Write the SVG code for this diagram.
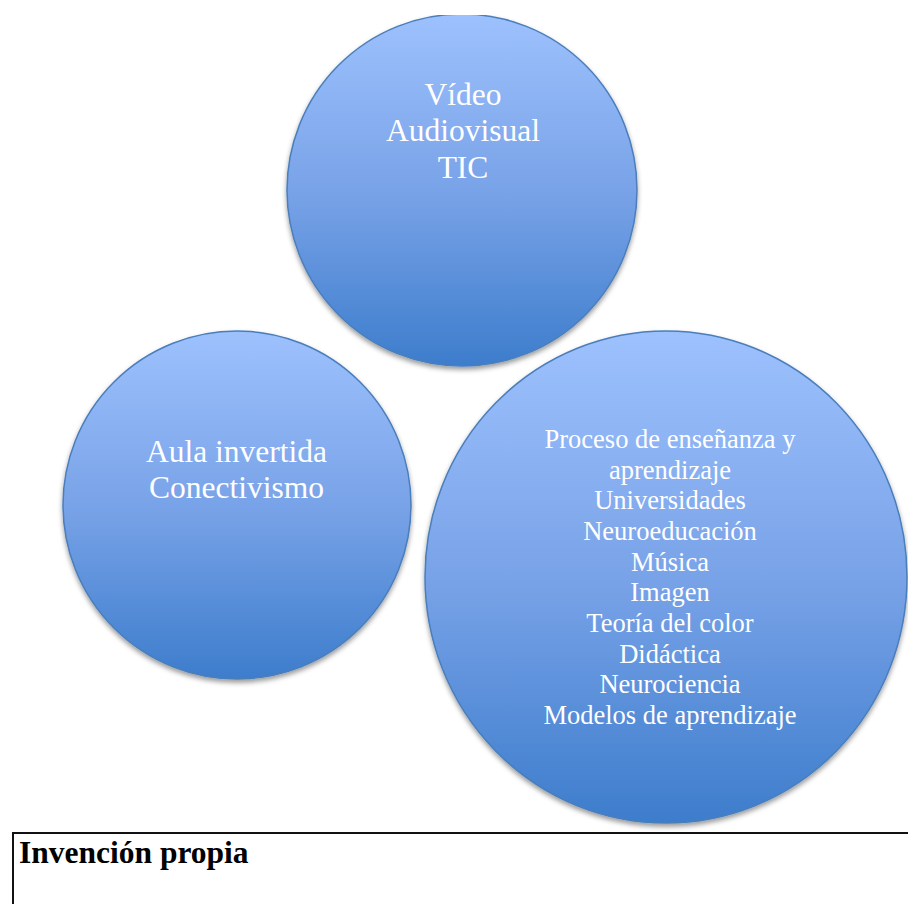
<svg xmlns="http://www.w3.org/2000/svg" width="908" height="904" viewBox="0 0 908 904">
<defs>
<linearGradient id="g" x1="0" y1="0" x2="0" y2="1">
<stop offset="0" stop-color="#9DC1FD"/>
<stop offset="0.5" stop-color="#79A3E8"/>
<stop offset="1" stop-color="#3D7DCC"/>
</linearGradient>
<filter id="sh" x="-10%" y="-10%" width="120%" height="125%">
<feDropShadow dx="0" dy="3" stdDeviation="2.5" flood-color="#000" flood-opacity="0.4"/>
</filter>
<clipPath id="pg"><rect x="0" y="15" width="908" height="889"/></clipPath>
</defs>
<style>
.c{fill:url(#g);stroke:#4A7EBB;stroke-width:1.5;filter:url(#sh)}
.t{font-family:"Liberation Serif","Times New Roman",serif;fill:#fff;text-anchor:middle}
.big{font-size:31.5px}
.sm{font-size:26.5px}
</style>
<rect width="908" height="904" fill="#fff"/>
<g id="connectors"/>
<g id="node-top" clip-path="url(#pg)">
<ellipse class="c" cx="462" cy="190" rx="175" ry="176"/>
<text class="t big" x="463" y="104.5">Vídeo</text>
<text class="t big" x="463" y="141">Audiovisual</text>
<text class="t big" x="463" y="177.5">TIC</text>
</g>
<g id="node-left">
<ellipse class="c" cx="237" cy="505" rx="174" ry="174"/>
<text class="t big" x="236.5" y="462">Aula invertida</text>
<text class="t big" x="236.5" y="498">Conectivismo</text>
</g>
<g id="node-right">
<ellipse class="c" cx="666" cy="577" rx="241" ry="246"/>
<text class="t sm" x="670" y="448">Proceso de enseñanza y</text>
<text class="t sm" x="670" y="478.7">aprendizaje</text>
<text class="t sm" x="670" y="509.3">Universidades</text>
<text class="t sm" x="670" y="540">Neuroeducación</text>
<text class="t sm" x="670" y="570.7">Música</text>
<text class="t sm" x="670" y="601.3">Imagen</text>
<text class="t sm" x="670" y="632">Teoría del color</text>
<text class="t sm" x="670" y="662.7">Didáctica</text>
<text class="t sm" x="670" y="693.3">Neurociencia</text>
<text class="t sm" x="670" y="724">Modelos de aprendizaje</text>
</g>
<g id="caption">
<path d="M13 905 V833 H910" fill="none" stroke="#111" stroke-width="2"/>
<text x="19" y="863" font-family="Liberation Serif,'Times New Roman',serif" font-weight="bold" font-size="31.5" fill="#000">Invención propia</text>
</g>
</svg>
